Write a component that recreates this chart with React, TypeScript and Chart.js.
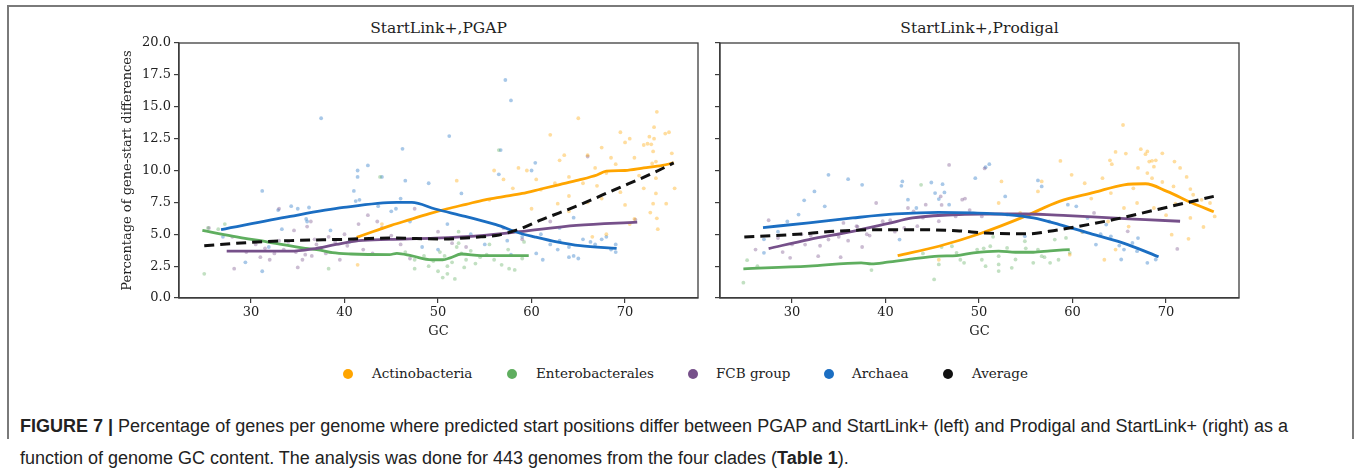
import React, { useEffect, useRef } from "react";
import { Chart, registerables } from "chart.js";

Chart.register(...registerables);

// ---- axes ----
const gcTicks = [30, 40, 50, 60, 70];
const pctTicks = [0, 2.5, 5, 7.5, 10, 12.5, 15, 17.5, 20];
const gcMin = 22.3;
const gcMax = 77.8;

// ---- clades ----
const clades = ["Actinobacteria", "Enterobacterales", "FCB group", "Archaea", "Average"];
const lineColors = ["#ffa500", "#5fae5f", "#76508a", "#1b6ec2", "#111111"];
const dotColors = [
  "rgba(255,165,0,0.38)",
  "rgba(95,174,95,0.38)",
  "rgba(118,80,138,0.38)",
  "rgba(27,110,194,0.38)",
];

type Pt = [number, number];

// ---- StartLink+ vs PGAP: per-genome values ----
const pgapActinoPts: Pt[] = [
  [41.4, 2.6], [44.0, 5.8], [52.0, 9.2], [55.5, 7.7], [56.0, 10.0], [57.0, 9.3], [58.6, 10.2], [59.5, 10.0],
  [60.0, 7.0], [61.0, 8.5], [62.0, 12.8], [62.5, 9.0], [63.0, 10.8], [64.0, 9.5], [64.0, 8.0], [64.0, 6.8],
  [65.0, 14.1], [66.0, 11.2], [66.0, 7.5], [66.5, 4.8], [67.0, 8.8], [67.5, 7.8], [67.5, 11.8], [68.0, 5.0],
  [68.0, 9.8], [69.0, 10.5], [69.5, 13.0], [70.0, 12.2], [70.0, 7.3], [70.5, 5.8], [70.5, 12.5], [71.0, 11.0],
  [71.0, 6.2], [72.0, 12.0], [72.0, 8.6], [72.4, 12.1], [72.6, 12.65], [72.7, 6.7], [72.8, 12.05], [72.9, 10.55],
  [73.0, 11.5], [73.0, 7.4], [73.1, 13.4], [73.1, 12.5], [73.3, 10.7], [73.3, 9.4], [73.3, 8.2], [73.4, 14.6],
  [73.4, 6.25], [73.5, 5.4], [74.3, 12.9], [74.4, 7.4], [74.7, 13.0], [75.0, 11.35], [75.3, 8.6], [65.5, 9.0],
  [63.5, 11.2], [68.5, 11.0], [69.5, 8.3], [71.5, 9.6], [60.5, 9.3], [62.8, 7.4], [66.8, 10.2], [58.0, 8.6],
];
const pgapEnteroPts: Pt[] = [
  [25.0, 1.9], [25.4, 5.5], [26.5, 5.4], [27.2, 5.8], [38.3, 2.3], [43.8, 9.5], [46.5, 3.6], [47.5, 3.0],
  [47.5, 2.3], [48.5, 3.3], [49.0, 2.5], [49.5, 2.9], [50.0, 2.1], [50.5, 1.6], [50.7, 3.3], [51.0, 1.9],
  [51.0, 2.5], [51.5, 2.8], [51.8, 1.5], [52.0, 4.0], [52.2, 4.3], [52.2, 5.2], [52.5, 3.5], [53.0, 3.0],
  [53.5, 3.7], [54.0, 2.7], [54.5, 3.2], [55.0, 4.8], [55.5, 4.2], [56.0, 3.0], [56.8, 2.6], [57.5, 3.8],
  [57.6, 2.3], [58.2, 2.2], [59.0, 3.1], [59.2, 4.4], [56.5, 11.6], [50.2, 3.6], [52.8, 2.4], [55.2, 3.4],
];
const pgapFcbPts: Pt[] = [
  [25.5, 5.5], [28.0, 4.8], [28.2, 2.3], [29.5, 3.6], [30.5, 4.2], [31.0, 3.2], [31.5, 3.9], [32.0, 3.0],
  [32.5, 3.5], [33.0, 7.0], [33.0, 4.5], [33.5, 3.8], [34.0, 4.4], [34.6, 5.3], [35.0, 2.4], [35.5, 3.0],
  [35.8, 3.4], [36.0, 5.6], [36.4, 6.0], [36.5, 3.3], [37.0, 4.2], [37.5, 3.9], [38.0, 3.5], [38.3, 4.8],
  [39.5, 3.0], [40.0, 5.0], [40.3, 4.1], [41.5, 5.8], [42.5, 6.5], [43.0, 3.5], [43.5, 6.0], [44.0, 5.5],
  [45.0, 4.9], [46.0, 4.2], [47.0, 3.1], [47.5, 7.0], [50.0, 5.2], [51.5, 4.3], [53.0, 4.0], [57.0, 5.5],
  [59.0, 4.6], [62.0, 6.0], [66.0, 11.1], [71.1, 6.15], [34.8, 3.6], [36.8, 4.6], [39.0, 4.4], [42.0, 3.8],
];
const pgapArchaeaPts: Pt[] = [
  [27.0, 4.8], [29.4, 2.8], [31.2, 8.4], [31.2, 2.1], [31.9, 4.0], [32.9, 6.9], [33.3, 5.4], [34.3, 7.2],
  [35.0, 7.0], [35.9, 6.2], [36.0, 6.0], [36.2, 7.1], [37.5, 14.1], [38.5, 5.3], [40.5, 4.4], [41.0, 8.4],
  [41.2, 7.6], [41.4, 10.0], [41.4, 9.5], [41.6, 7.7], [42.5, 10.4], [43.6, 7.2], [44.0, 9.5], [45.0, 6.8],
  [45.5, 7.0], [46.0, 7.8], [46.2, 11.7], [46.5, 9.2], [47.0, 6.0], [48.3, 4.0], [49.0, 9.0], [50.0, 3.8],
  [51.0, 5.8], [51.2, 12.7], [52.5, 8.2], [53.5, 5.0], [55.0, 4.2], [56.5, 9.7], [56.7, 11.6], [57.2, 17.1],
  [57.4, 4.5], [57.8, 15.5], [57.8, 3.4], [59.0, 4.8], [60.0, 10.0], [60.4, 10.6], [60.5, 3.5], [61.0, 5.0],
  [61.2, 3.0], [62.0, 4.2], [62.8, 3.8], [63.0, 4.5], [63.0, 5.5], [64.0, 4.0], [64.0, 3.2], [64.5, 3.3],
  [64.5, 6.3], [65.0, 3.1], [65.5, 4.6], [66.3, 4.4], [66.8, 4.2], [67.5, 4.6], [68.0, 4.8], [68.5, 3.8],
  [69.0, 4.2], [69.0, 3.6],
];

// ---- StartLink+ vs PGAP: smoothed trends ----
const pgapActinoLine: Pt[] = [
  [41.3, 4.75], [43, 5.2], [45, 5.7], [47, 6.15], [49, 6.6], [51, 7.0], [53, 7.35], [55, 7.7], [57, 7.95],
  [59, 8.2], [61, 8.55], [63, 8.9], [65, 9.25], [67, 9.65], [68, 9.95], [70, 10.0], [72, 10.2], [74, 10.4], [75.2, 10.6],
];
const pgapEnteroLine: Pt[] = [
  [24.8, 5.3], [28.0, 4.85], [31.7, 4.4], [35.8, 3.9], [37.4, 3.75], [38.7, 3.55], [40.7, 3.45], [44.8, 3.4],
  [45.6, 3.5], [47.2, 3.3], [49.3, 3.0], [50.5, 3.0], [51.3, 3.15], [52.5, 3.45], [54.6, 3.33], [57.0, 3.33], [59.7, 3.33],
];
const pgapFcbLine: Pt[] = [
  [27.4, 3.67], [34.2, 3.67], [36.6, 3.85], [39.1, 4.2], [41.5, 4.5], [44.8, 4.6], [49.7, 4.7], [54.6, 4.9],
  [58.7, 5.2], [64.8, 5.7], [71.3, 5.95],
];
const pgapArchaeaLine: Pt[] = [
  [26.8, 5.36], [34.2, 6.4], [39.9, 7.1], [45.6, 7.5], [47.2, 7.5], [49.7, 6.98], [52.9, 6.4], [56.2, 5.75],
  [58.7, 5.1], [60.3, 4.8], [62.7, 4.4], [65.2, 4.1], [69.1, 3.9],
];
const pgapAverageLine: Pt[] = [
  [25.0, 4.1], [30.1, 4.37], [34.2, 4.5], [39.9, 4.6], [44.8, 4.7], [50.5, 4.63], [54.6, 4.8], [56.2, 4.9],
  [58.7, 5.4], [61.1, 6.15], [64.8, 7.2], [68.9, 8.5], [73.0, 9.8], [75.2, 10.6],
];

// ---- StartLink+ vs Prodigal: per-genome values ----
const prodActinoPts: Pt[] = [
  [45.7, 3.0], [52.1, 7.45], [52.4, 9.14], [54.4, 6.67], [56.3, 8.36], [56.7, 9.14], [58.7, 10.75], [59.7, 3.4],
  [59.9, 9.66], [61.3, 9.0], [63.2, 9.4], [63.4, 3.0], [64.0, 10.8], [64.1, 8.23], [64.2, 10.5], [64.6, 11.46],
  [64.6, 3.8], [65.4, 13.57], [65.5, 7.06], [65.7, 11.33], [66.9, 7.45], [67.3, 11.67], [67.8, 11.28], [68.0, 11.5],
  [68.0, 9.8], [68.2, 10.7], [68.5, 10.76], [68.5, 9.4], [68.7, 10.3], [68.7, 7.06], [68.9, 10.8], [69.6, 11.35],
  [69.6, 9.1], [70.6, 4.97], [70.8, 8.75], [70.9, 10.7], [71.5, 10.2], [72.2, 9.5], [72.4, 4.64], [72.6, 8.54],
  [72.6, 6.28], [72.9, 8.1], [73.8, 7.7], [74.0, 5.57], [74.7, 7.45], [75.2, 6.4], [62.0, 7.8], [66.5, 8.6],
  [67.0, 10.2], [70.0, 6.5], [61.0, 5.2], [63.8, 6.0], [66.0, 5.6], [71.0, 7.4],
];
const prodEnteroPts: Pt[] = [
  [24.8, 1.2], [25.2, 2.97], [26.3, 2.5], [38.5, 2.19], [43.8, 8.88], [45.2, 1.46], [47.1, 4.06], [47.6, 3.54],
  [49.8, 3.8], [50.3, 3.0], [51.2, 4.06], [52.1, 3.28], [52.1, 2.63], [52.1, 2.11], [53.0, 3.93], [53.9, 3.02],
  [54.9, 4.45], [55.8, 2.76], [56.7, 3.28], [57.6, 2.76], [58.1, 4.58], [59.3, 4.71], [59.7, 3.54], [56.3, 3.8],
  [53.5, 2.37], [50.7, 2.5], [48.4, 2.76], [45.7, 2.63], [44.0, 3.5], [46.0, 4.0], [48.0, 3.0], [50.5, 3.9],
  [51.5, 4.8], [55.0, 3.9], [57.0, 3.2], [58.5, 3.0],
];
const prodFcbPts: Pt[] = [
  [27.5, 6.1], [26.1, 3.8], [29.8, 3.15], [32.8, 3.28], [35.2, 3.2], [31.4, 4.19], [33.9, 4.58], [35.5, 5.89],
  [36.9, 5.63], [39.0, 7.45], [38.3, 4.9], [39.7, 6.02], [42.4, 7.06], [43.4, 5.63], [44.3, 7.32], [45.9, 7.97],
  [48.2, 7.71], [46.8, 10.44], [50.6, 10.16], [50.3, 6.4], [45.7, 6.02], [71.2, 3.85], [62.3, 6.67], [65.9, 5.23],
  [42.0, 5.5], [28.5, 4.7], [30.0, 4.2], [31.0, 5.0], [33.0, 4.1], [34.0, 5.2], [35.0, 4.8], [36.0, 4.5],
  [37.0, 5.6], [38.0, 5.0], [40.5, 6.1], [41.0, 5.2], [43.0, 6.8], [44.0, 6.3], [46.0, 7.3], [47.5, 6.4],
  [48.5, 7.8], [49.0, 6.9], [37.5, 4.0], [32.0, 4.9], [29.0, 3.6],
];
const prodArchaeaPts: Pt[] = [
  [33.9, 9.66], [36.0, 9.32], [37.5, 8.88], [32.4, 8.36], [31.3, 7.66], [33.5, 7.19], [30.7, 6.54], [41.8, 9.14],
  [41.7, 8.8], [44.9, 9.06], [46.1, 8.93], [45.3, 8.23], [46.3, 8.28], [45.7, 7.76], [42.4, 7.71], [43.3, 7.06],
  [46.8, 7.32], [49.6, 9.4], [50.7, 10.26], [51.1, 10.5], [56.3, 9.22], [56.7, 8.75], [52.8, 7.97], [59.5, 7.32],
  [60.4, 7.19], [61.6, 6.28], [63.6, 5.76], [64.1, 4.84], [61.1, 5.16], [62.5, 4.19], [65.0, 4.11], [66.4, 4.32],
  [65.5, 3.8], [65.2, 3.02], [66.9, 3.67], [68.0, 2.76], [68.9, 3.02], [54.9, 4.84], [53.0, 6.54], [27.0, 3.54],
  [41.5, 4.58], [27.0, 4.6], [28.5, 5.2], [29.5, 6.0], [57.5, 6.0], [60.0, 5.5], [63.0, 5.0], [67.0, 4.7],
];

// ---- StartLink+ vs Prodigal: smoothed trends ----
const prodActinoLine: Pt[] = [
  [41.3, 3.33], [45.7, 4.06], [50.3, 5.1], [54.9, 6.4], [58.6, 7.58], [62.3, 8.28], [65.5, 8.88], [67.8, 8.96],
  [70.1, 8.36], [72.8, 7.45], [75.1, 6.77],
];
const prodEnteroLine: Pt[] = [
  [24.8, 2.29], [31.8, 2.5], [37.4, 2.76], [38.5, 2.68], [40.2, 2.81], [42.9, 3.07], [45.7, 3.28], [47.6, 3.33],
  [49.4, 3.54], [52.1, 3.67], [53.9, 3.59], [55.8, 3.59], [57.6, 3.7], [59.7, 3.8],
];
const prodFcbLine: Pt[] = [
  [27.5, 3.88], [31.8, 4.58], [36.5, 5.23], [40.2, 5.83], [42.9, 6.28], [46.6, 6.51], [50.3, 6.59], [54.9, 6.59],
  [59.5, 6.46], [64.1, 6.28], [67.8, 6.15], [71.5, 6.02],
];
const prodArchaeaLine: Pt[] = [
  [26.9, 5.52], [31.8, 5.9], [36.5, 6.28], [41.1, 6.59], [45.7, 6.72], [49.4, 6.67], [53.0, 6.54], [55.8, 6.28],
  [58.6, 5.76], [62.3, 4.97], [65.9, 4.19], [69.2, 3.23],
];
const prodAverageLine: Pt[] = [
  [24.9, 4.79], [30.0, 4.97], [34.6, 5.23], [39.2, 5.36], [43.8, 5.36], [47.9, 5.26], [50.6, 5.1], [55.2, 5.03],
  [57.5, 5.23], [60.7, 5.63], [64.4, 6.15], [69.0, 6.93], [75.1, 7.97],
];

const serif = "'DejaVu Serif', serif";
const spineColor = "#3d3d3d";

// draws the remaining spines (top and right) around the plot area
const framePlugin = {
  id: "frame",
  afterDraw(chart: any) {
    const { ctx, chartArea } = chart;
    ctx.save();
    ctx.strokeStyle = spineColor;
    ctx.lineWidth = 1.3;
    ctx.strokeRect(chartArea.left, chartArea.top, chartArea.right - chartArea.left, chartArea.bottom - chartArea.top);
    ctx.restore();
  },
};

type PanelProps = {
  left: number;
  yAxisWidth: number;
  showYLabels: boolean;
  points: Pt[][];
  lines: Pt[][];
};

function Panel({ left, yAxisWidth, showYLabels, points, lines }: PanelProps) {
  const ref = useRef<HTMLCanvasElement>(null);
  useEffect(() => {
    const toXY = (a: Pt[]) => a.map(([x, y]) => ({ x, y }));
    const datasets: any[] = [];
    points.forEach((pts, i) => {
      datasets.push({
        data: toXY(pts),
        showLine: false,
        pointRadius: 1.9,
        pointBorderWidth: 0,
        pointBackgroundColor: dotColors[i],
        order: 10,
      });
    });
    lines.forEach((ln, i) => {
      datasets.push({
        data: toXY(ln),
        showLine: true,
        pointRadius: 0,
        borderColor: lineColors[i],
        borderWidth: i === 4 ? 3 : 2.8,
        borderDash: i === 4 ? [10, 6] : [],
        cubicInterpolationMode: "monotone",
        fill: false,
        order: i === 4 ? 0 : 5 - i,
      });
    });
    const chart = new Chart(ref.current!, {
      type: "scatter",
      data: { datasets },
      plugins: [framePlugin],
      options: {
        animation: false,
        responsive: false,
        maintainAspectRatio: false,
        layout: { padding: { top: 23, right: 610 - (yAxisWidth + 519), left: 0, bottom: 0 } },
        plugins: { legend: { display: false }, tooltip: { enabled: false }, title: { display: false } },
        scales: {
          x: {
            type: "linear",
            min: gcMin,
            max: gcMax,
            afterBuildTicks: (s: any) => {
              s.ticks = gcTicks.map((v) => ({ value: v }));
            },
            afterFit: (s: any) => {
              s.height = 52;
            },
            grid: { display: true, drawOnChartArea: false, drawTicks: true, tickLength: 5, color: spineColor, lineWidth: 1.2 },
            border: { display: true, color: spineColor, width: 1.3 },
            ticks: { color: "#222", font: { family: serif, size: 13 }, padding: 2, maxRotation: 0 },
            title: { display: true, text: "GC", color: "#222", font: { family: serif, size: 13 }, padding: { top: 0, bottom: 11 } },
          },
          y: {
            type: "linear",
            min: 0,
            max: 20,
            afterBuildTicks: (s: any) => {
              s.ticks = pctTicks.map((v) => ({ value: v }));
            },
            afterFit: (s: any) => {
              s.width = yAxisWidth;
            },
            grid: { display: true, drawOnChartArea: false, drawTicks: true, tickLength: 5, color: spineColor, lineWidth: 1.2 },
            border: { display: true, color: spineColor, width: 1.3 },
            ticks: {
              color: "#222",
              font: { family: serif, size: 13 },
              padding: 3,
              callback: (v: any) => (showYLabels ? Number(v).toFixed(1) : ""),
            },
            title: {
              display: showYLabels,
              text: "Percentage of gene-start differences",
              color: "#222",
              font: { family: serif, size: 13 },
              padding: { top: 20, bottom: 0 },
            },
          },
        },
      },
    });
    return () => chart.destroy();
  }, []);
  return (
    <canvas
      ref={ref}
      width={610}
      height={330}
      style={{ position: "absolute", left, top: 20, width: 610, height: 330 }}
    />
  );
}

const legendDotX = [348, 512, 693, 829, 948];
const legendTextX = [372, 536, 716, 852, 972];

export default function App() {
  return (
    <div style={{ position: "fixed", left: 0, top: 0, width: 1356, height: 473, background: "#fff", overflow: "hidden" }}>
      <div
        style={{
          position: "absolute",
          left: 7,
          top: 5,
          width: 1343,
          height: 432,
          borderTop: "2px solid #7a7a7a",
          borderLeft: "2px solid #7a7a7a",
          borderRight: "2px solid #7a7a7a",
        }}
      />
      <div style={{ position: "absolute", left: 179, width: 519, top: 19, textAlign: "center", fontFamily: serif, fontSize: 15.5, color: "#222" }}>
        StartLink+,PGAP
      </div>
      <div style={{ position: "absolute", left: 720, width: 519, top: 19, textAlign: "center", fontFamily: serif, fontSize: 15.5, color: "#222" }}>
        StartLink+,Prodigal
      </div>
      <Panel
        left={100}
        yAxisWidth={79}
        showYLabels={true}
        points={[pgapActinoPts, pgapEnteroPts, pgapFcbPts, pgapArchaeaPts]}
        lines={[pgapActinoLine, pgapEnteroLine, pgapFcbLine, pgapArchaeaLine, pgapAverageLine]}
      />
      <Panel
        left={640}
        yAxisWidth={80}
        showYLabels={false}
        points={[prodActinoPts, prodEnteroPts, prodFcbPts, prodArchaeaPts]}
        lines={[prodActinoLine, prodEnteroLine, prodFcbLine, prodArchaeaLine, prodAverageLine]}
      />
      {clades.map((name, i) => (
        <React.Fragment key={name}>
          <div
            style={{
              position: "absolute",
              left: legendDotX[i] - 5,
              top: 369,
              width: 10,
              height: 10,
              borderRadius: 5,
              background: lineColors[i],
            }}
          />
          <div style={{ position: "absolute", left: legendTextX[i], top: 365, fontFamily: serif, fontSize: 13.5, color: "#222", whiteSpace: "nowrap" }}>
            {name}
          </div>
        </React.Fragment>
      ))}
      <div
        style={{
          position: "absolute",
          left: 20,
          top: 410,
          width: 1330,
          fontFamily: "'Liberation Sans', Arial, sans-serif",
          fontSize: 18,
          lineHeight: "32px",
          color: "#222",
          whiteSpace: "nowrap",
        }}
      >
        <b>FIGURE 7 |</b> Percentage of genes per genome where predicted start positions differ between PGAP and StartLink+ (left) and Prodigal and StartLink+ (right) as a
        <br />
        function of genome GC content. The analysis was done for 443 genomes from the four clades (<b>Table 1</b>).
      </div>
    </div>
  );
}
